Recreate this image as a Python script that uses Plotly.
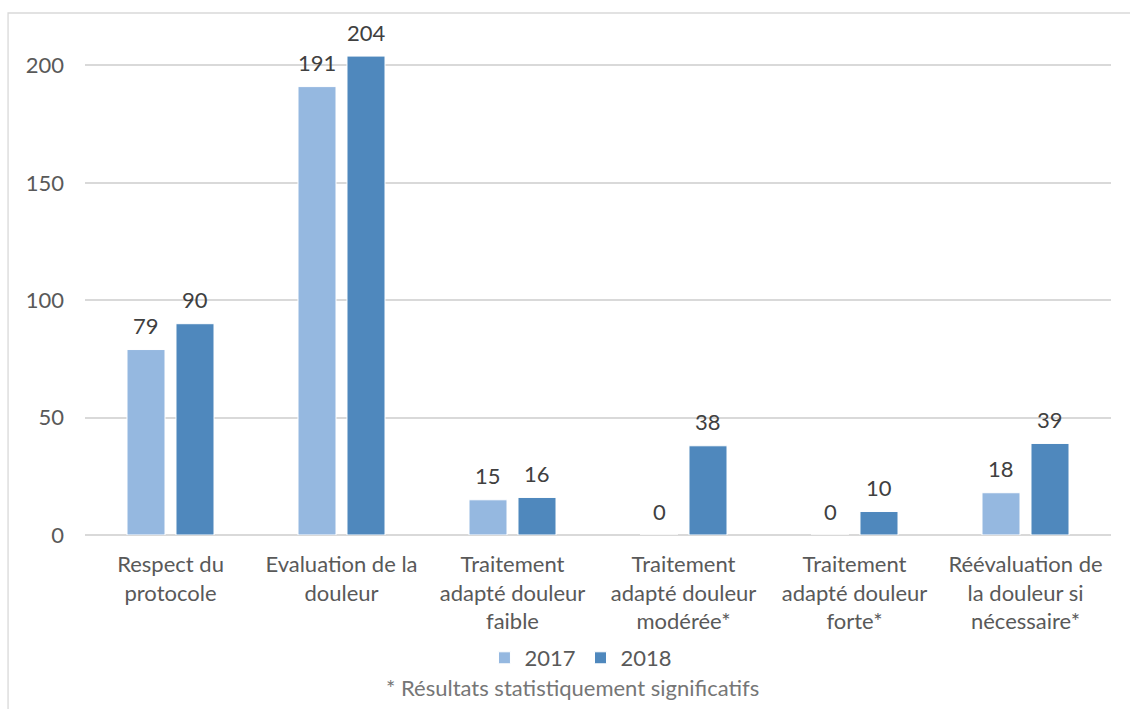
import plotly.graph_objects as go

categories = [
    "Respect du<br>protocole",
    "Evaluation de la<br>douleur",
    "Traitement<br>adapté douleur<br>faible",
    "Traitement<br>adapté douleur<br>modérée*",
    "Traitement<br>adapté douleur<br>forte*",
    "Réévaluation de<br>la douleur si<br>nécessaire*",
]
values_2017 = [79, 191, 15, 0, 0, 18]
values_2018 = [90, 204, 16, 38, 10, 39]
series_names = ["2017", "2018"]
series_colors = ["#95B8E0", "#4F88BD"]
y_ticks = [0, 50, 100, 150, 200]
footnote = "* Résultats statistiquement significatifs"

FONT = "Lato"
FS = 22
TEXT_GREY = "#595959"
GRID = "#d9d9d9"

fig = go.Figure()
for name, vals, col in zip(series_names, [values_2017, values_2018], series_colors):
    fig.add_trace(go.Bar(
        name=name, x=categories, y=vals,
        marker=dict(color=col, line=dict(color="white", width=1)),
        hoverinfo="x+y",
    ))

# value labels above each bar
annotations = []
for shift, vals in zip([-24.5, 24.5], [values_2017, values_2018]):
    for cat, v in zip(categories, vals):
        annotations.append(dict(
            x=cat, y=v, xref="x", yref="y", text=str(v), showarrow=False,
            xshift=shift, yshift=24, yanchor="middle",
            font=dict(family=FONT, size=FS, color="#404040"),
        ))

annotations.append(dict(
    x=0.4747, y=-0.31, xref="paper", yref="paper", text=footnote,
    showarrow=False, xanchor="center", yanchor="middle",
    font=dict(family=FONT, size=FS, color="#767676"),
))

fig.update_layout(
    width=1130, height=709,
    margin=dict(l=85, r=19, t=42, b=174, autoexpand=False),
    paper_bgcolor="white", plot_bgcolor="white",
    barmode="group", bargap=0.427, bargroupgap=0.224,
    font=dict(family=FONT, size=FS, color=TEXT_GREY),
    showlegend=True,
    legend=dict(
        orientation="h", x=0.4834, y=-0.2495, xanchor="center", yanchor="middle",
        font=dict(family=FONT, size=FS, color=TEXT_GREY),
        bgcolor="rgba(0,0,0,0)",
    ),
    annotations=annotations,
    shapes=[dict(
        type="rect", xref="paper", yref="paper",
        x0=-0.075, x1=1.2, y0=-0.6, y1=1.0588,
        line=dict(color=GRID, width=1.3), fillcolor="rgba(0,0,0,0)", layer="below",
    )],
)
fig.update_xaxes(
    showgrid=False, showline=False, ticks="", tickfont=dict(size=FS, color=TEXT_GREY),
    ticklabelstandoff=14,
)
fig.update_yaxes(
    range=[0, 210], tickvals=y_ticks, showgrid=True, gridcolor=GRID, gridwidth=1.5,
    zeroline=True, zerolinecolor=GRID, zerolinewidth=1.5, showline=False, ticks="",
    tickfont=dict(size=FS, color=TEXT_GREY), ticklabelstandoff=20,
)

fig.write_html("out.html")
